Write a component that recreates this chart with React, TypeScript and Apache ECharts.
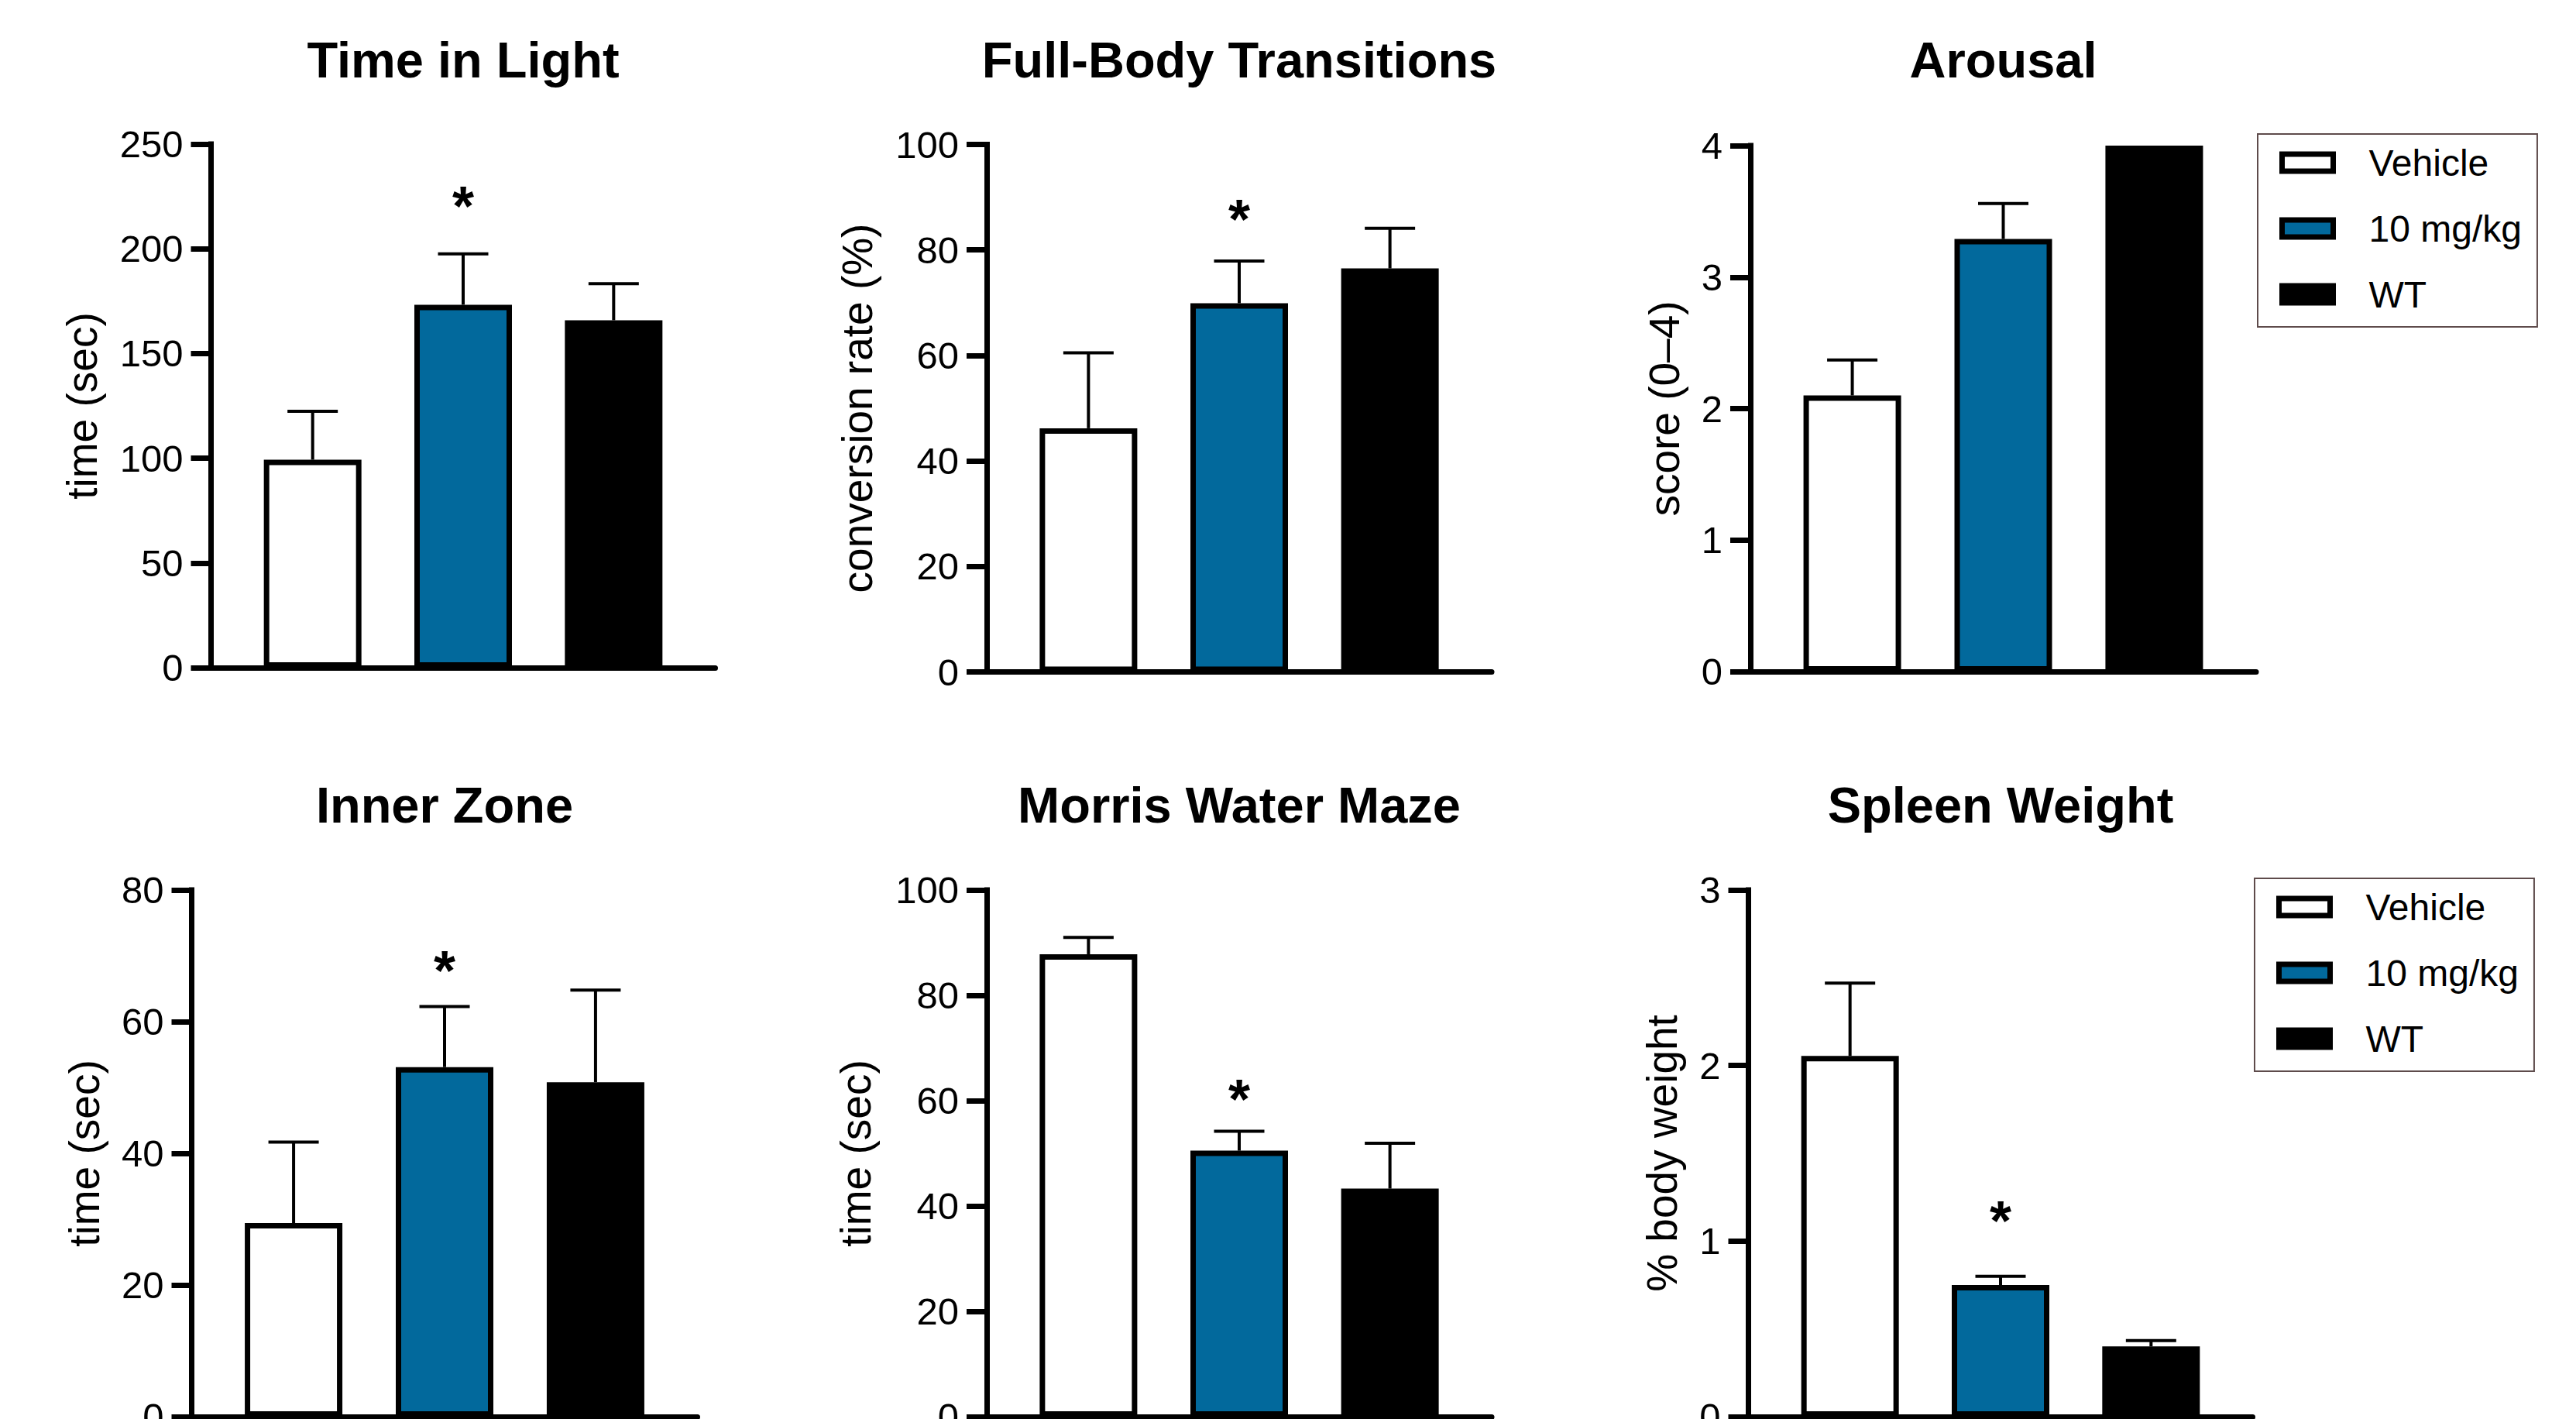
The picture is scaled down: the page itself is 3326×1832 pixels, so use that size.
import React, { useEffect, useRef } from 'react';
import * as echarts from 'echarts';

// ---------- data ----------
const GROUPS = ['Vehicle', '10 mg/kg', 'WT'];
const GROUP_X = [0, 1, 2];

const PANEL_TITLES = ['Time in Light', 'Full-Body Transitions', 'Arousal', 'Inner Zone', 'Morris Water Maze', 'Spleen Weight'];
const Y_NAMES = ['time (sec)', 'conversion rate (%)', 'score (0–4)', 'time (sec)', 'time (sec)', '% body weight'];
const Y_MAX = [250, 100, 4, 80, 100, 3];
const Y_STEP = [50, 20, 1, 20, 20, 1];

const timeInLightMean = [99.3, 173.3, 165.9];
const timeInLightUpper = [122.4, 197.6, 183.3];
const fullBodyMean = [46.2, 69.9, 76.5];
const fullBodyUpper = [60.5, 77.9, 84.1];
const arousalMean = [2.1, 3.29, 4.0];
const arousalUpper = [2.37, 3.56, 4.0];
const innerZoneMean = [29.4, 53.1, 50.8];
const innerZoneUpper = [41.7, 62.3, 64.8];
const morrisMean = [87.8, 50.5, 43.3];
const morrisUpper = [91.0, 54.2, 51.9];
const spleenMean = [2.055, 0.75, 0.4];
const spleenUpper = [2.47, 0.8, 0.433];

// significance marker (*) height, in axis units, above the 10 mg/kg group
const SIG_GROUP = 1;
const SIG_Y = [224, 87.3, null, 69.0, 61.8, 1.16];

const MEANS = [timeInLightMean, fullBodyMean, arousalMean, innerZoneMean, morrisMean, spleenMean];
const UPPERS = [timeInLightUpper, fullBodyUpper, arousalUpper, innerZoneUpper, morrisUpper, spleenUpper];

// ---------- layout & style ----------
const W = 3326;
const H = 1832;
const FONT = '"Liberation Sans", Arial, Helvetica, sans-serif';
const GROUP_FILL = ['#ffffff', '#02699c', '#000000'];

const LAYOUT = [
  { left: 272.5, top: 186, width: 651, height: 676, nameGap: 167, titleY: 77.5 },
  { left: 1274, top: 186.5, width: 652, height: 681, nameGap: 167, titleY: 77.5 },
  { left: 2260, top: 188, width: 653, height: 679, nameGap: 111, titleY: 77.5 },
  { left: 247.5, top: 1149, width: 653, height: 680, nameGap: 139, titleY: 1039 },
  { left: 1274, top: 1149, width: 652, height: 680, nameGap: 169, titleY: 1039 },
  { left: 2257.5, top: 1149, width: 651, height: 680, nameGap: 112, titleY: 1039 },
];
const X_MIN = -0.675;
const X_MAX = 2.675;
const BAR_W = 126;
const BORDER = 7;
const ERR_W = 4;
const CAP_HALF = 32.5;
const STAR_SIZE = 72;
const STAR_DY = 10;

function renderErr(_params: any, api: any) {
  const x = api.value(0);
  const m = api.value(1);
  const hi = api.value(2);
  if (!(hi > m)) return null;
  const a = api.coord([x, m]);
  const b = api.coord([x, hi]);
  return {
    type: 'group',
    children: [
      { type: 'line', shape: { x1: a[0], y1: a[1], x2: b[0], y2: b[1] }, style: { stroke: '#000', lineWidth: ERR_W } },
      { type: 'line', shape: { x1: b[0] - CAP_HALF, y1: b[1], x2: b[0] + CAP_HALF, y2: b[1] }, style: { stroke: '#000', lineWidth: ERR_W } },
    ],
  };
}

function renderStar(_params: any, api: any) {
  const p = api.coord([api.value(0), api.value(1)]);
  return {
    type: 'text',
    x: p[0],
    y: p[1] + STAR_DY,
    style: {
      text: '*',
      fontSize: STAR_SIZE,
      fontWeight: 'bold',
      fontFamily: FONT,
      fill: '#000',
      align: 'center',
      verticalAlign: 'middle',
    },
  };
}

function buildOption() {
  const grid: any[] = [];
  const xAxis: any[] = [];
  const yAxis: any[] = [];
  const series: any[] = [];
  const title: any[] = [];

  PANEL_TITLES.forEach((t, i) => {
    const L = LAYOUT[i];
    grid.push({ left: L.left, top: L.top, width: L.width, height: L.height, containLabel: false, outerBoundsMode: 'none' });
    title.push({
      text: t,
      left: L.left + L.width / 2,
      top: L.titleY,
      textAlign: 'center',
      textVerticalAlign: 'middle',
      padding: 0,
      textStyle: { fontSize: 65, fontWeight: 'bold', color: '#000', fontFamily: FONT },
    });
    xAxis.push({
      type: 'value',
      gridIndex: i,
      min: X_MIN,
      max: X_MAX,
      axisLine: { show: true, onZero: false, lineStyle: { color: '#000', width: BORDER } },
      axisTick: { show: false },
      axisLabel: { show: false },
      splitLine: { show: false },
    });
    yAxis.push({
      type: 'value',
      gridIndex: i,
      min: 0,
      max: Y_MAX[i],
      interval: Y_STEP[i],
      axisLine: { show: true, onZero: false, lineStyle: { color: '#000', width: BORDER, cap: 'square' } },
      axisTick: { show: true, length: 26, lineStyle: { color: '#000', width: BORDER } },
      axisLabel: { color: '#000', fontSize: 49, margin: 36, fontFamily: FONT },
      splitLine: { show: false },
      name: Y_NAMES[i],
      nameLocation: 'middle',
      nameGap: L.nameGap,
      nameRotate: 90,
      nameTextStyle: { color: '#000', fontSize: 55, fontFamily: FONT, align: 'center', verticalAlign: 'middle' },
    });
    GROUPS.forEach((g, gi) => {
      series.push({
        type: 'bar',
        name: g,
        xAxisIndex: i,
        yAxisIndex: i,
        data: [[GROUP_X[gi], MEANS[i][gi]]],
        barWidth: BAR_W,
        barGap: '-100%',
        itemStyle: { color: GROUP_FILL[gi], borderColor: '#000', borderWidth: BORDER },
        emphasis: { disabled: true },
        silent: true,
        z: 2,
      });
    });
    series.push({
      type: 'custom',
      xAxisIndex: i,
      yAxisIndex: i,
      data: GROUP_X.map((x, gi) => [x, MEANS[i][gi], UPPERS[i][gi]]),
      encode: { x: 0, y: [1, 2] },
      renderItem: renderErr,
      silent: true,
      z: 5,
    });
    if (SIG_Y[i] != null) {
      series.push({
        type: 'custom',
        xAxisIndex: i,
        yAxisIndex: i,
        data: [[GROUP_X[SIG_GROUP], SIG_Y[i]]],
        encode: { x: 0, y: 1 },
        renderItem: renderStar,
        silent: true,
        z: 6,
      });
    }
  });

  const legendBase = {
    data: GROUPS,
    orient: 'vertical',
    icon: 'rect',
    itemWidth: 66,
    itemHeight: 22,
    itemGap: 35,
    padding: [12, 20, 17, 28],
    borderColor: '#5e4b4b',
    borderWidth: 2,
    selectedMode: false,
    itemStyle: { borderColor: '#000', borderWidth: BORDER },
    textStyle: { fontSize: 48, color: '#000', fontFamily: FONT, lineHeight: 50, padding: [0, 0, 0, 41] },
  };

  return {
    animation: false,
    backgroundColor: '#ffffff',
    textStyle: { fontFamily: FONT },
    title,
    grid,
    xAxis,
    yAxis,
    legend: [
      { ...legendBase, left: 2915, top: 173 },
      { ...legendBase, left: 2911, top: 1134 },
    ],
    series,
  };
}

export default function App() {
  const ref = useRef<HTMLDivElement>(null);
  useEffect(() => {
    document.body.style.margin = '0';
    document.body.style.overflow = 'hidden';
    if (!ref.current) return;
    const chart = echarts.init(ref.current, null, { renderer: 'svg', width: W, height: H });
    chart.setOption(buildOption() as any);
    return () => chart.dispose();
  }, []);
  return <div ref={ref} style={{ width: W, height: H, display: 'block' }} />;
}
